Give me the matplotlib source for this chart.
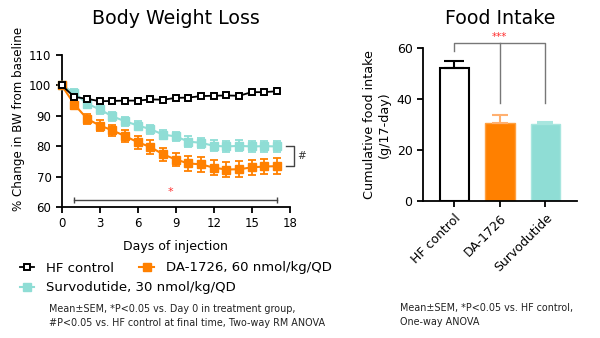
import matplotlib.pyplot as plt
import numpy as np

# body weight (% of baseline)
days = np.arange(0, 18)
hf_bw = [100, 96.2, 95.6, 94.8, 94.9, 95.0, 95.0, 95.4, 95.3, 95.9, 96.0, 96.5, 96.6, 96.7, 96.6, 97.8, 97.8, 98.1]
hf_err = [0.3, 0.6, 0.7, 0.7, 0.7, 0.7, 0.7, 0.7, 0.7, 0.7, 0.7, 0.8, 0.8, 0.8, 0.8, 0.8, 0.8, 0.9]
da_bw = [100, 93.7, 89.0, 86.8, 85.2, 83.3, 81.3, 79.7, 77.3, 75.6, 74.3, 74.0, 72.9, 72.3, 72.4, 73.0, 73.3, 73.4]
da_err = [0.3, 1.3, 1.6, 1.7, 1.8, 1.9, 2.1, 2.2, 2.2, 2.3, 2.4, 2.4, 2.5, 2.6, 2.6, 2.5, 2.6, 2.7]
sv_bw = [100, 97.5, 94.0, 92.1, 89.8, 88.2, 86.8, 85.6, 83.8, 83.2, 81.5, 81.1, 80.1, 79.9, 80.1, 79.9, 80.0, 79.9]
sv_err = [0.3, 1.3, 1.3, 1.4, 1.4, 1.4, 1.5, 1.5, 1.6, 1.6, 1.7, 1.7, 1.8, 1.8, 1.8, 1.8, 1.8, 1.9]

# food intake
groups = ["HF control", "DA-1726", "Survodutide"]
food = [52.3, 30.6, 30.2]
food_err = [2.7, 3.4, 1.0]

orange = "#FF8000"
teal = "#8FDDD5"

plt.rcParams['font.family'] = ['DejaVu Sans']
fig = plt.figure(figsize=(6, 3.38), dpi=100)

# ---- left: body weight ----
ax = fig.add_axes([0.103, 0.388, 0.380, 0.449])
ax.errorbar(days, sv_bw, yerr=sv_err, color=teal, marker='s', ms=6, lw=1.5,
            capsize=3, elinewidth=1.3, capthick=1.3, clip_on=False, zorder=3)
ax.errorbar(days, da_bw, yerr=da_err, color=orange, marker='s', ms=6, lw=1.5,
            capsize=3, elinewidth=1.3, capthick=1.3, clip_on=False, zorder=4)
ax.errorbar(days, hf_bw, yerr=hf_err, color='black', marker='s', ms=5, mfc='white',
            mew=1.4, lw=1.3, capsize=2, elinewidth=1, clip_on=False, zorder=5)

ax.set_xlim(0, 18)
ax.set_ylim(60, 110)
ax.set_xticks(range(0, 19, 3))
ax.set_yticks(range(60, 111, 10))
ax.tick_params(labelsize=8.5, width=1.3, length=4)
for s in ['top', 'right']:
    ax.spines[s].set_visible(False)
for s in ['left', 'bottom']:
    ax.spines[s].set_linewidth(1.3)
ax.set_xlabel("Days of injection", fontsize=9, labelpad=7)
ax.set_ylabel("% Change in BW from baseline", fontsize=8.6)
ax.yaxis.set_label_coords(-0.16, 0.58)
ax.set_title("Body Weight Loss", fontsize=13.7, pad=22.5)

# significance marks
ax.errorbar([1, 17], [62.2, 62.2], yerr=0.9, color='#444444', lw=1, capsize=0, elinewidth=1)
ax.text(8.6, 63.2, "*", color='#FF3030', fontsize=8, ha='center', va='bottom')
ax.plot([17.7, 18.35, 18.35, 17.7], [79.9, 79.9, 73.4, 73.4], color='#444444', lw=1, clip_on=False)
ax.text(18.6, 76.6, "#", fontsize=7.5, va='center', ha='left', color='#333333')

# legends
h_hf = ax.plot([], [], color='black', marker='s', ms=5, mfc='white', mew=1.4, lw=1.3)[0]
h_da = ax.plot([], [], color=orange, marker='s', ms=5.5, lw=1.5)[0]
h_sv = ax.plot([], [], color=teal, marker='s', ms=5.5, lw=1.5)[0]
fig.legend([h_hf, h_da], ["HF control", "DA-1726, 60 nmol/kg/QD"], ncol=2, frameon=False,
           fontsize=9.5, loc='center left', bbox_to_anchor=(0.033, 1 - 268 / 338), handlelength=1.1,
           handletextpad=0.9, columnspacing=1.9, borderaxespad=0, borderpad=0)
fig.legend([h_sv], ["Survodutide, 30 nmol/kg/QD"], frameon=False,
           fontsize=9.5, loc='center left', bbox_to_anchor=(0.033, 1 - 288 / 338), handlelength=1.1,
           handletextpad=0.9, borderaxespad=0, borderpad=0)

fig.text(0.082, 1 - 316 / 338, "Mean±SEM, *P<0.05 vs. Day 0 in treatment group,\n"
         "#P<0.05 vs. HF control at final time, Two-way RM ANOVA",
         fontsize=6.9, va='center', ha='left', linespacing=1.45, color='#222222')

# ---- right: food intake ----
ax2 = fig.add_axes([0.705, 0.405, 0.257, 0.452])
x = np.arange(len(groups))
ax2.bar(x[0], food[0], width=0.65, color='white', edgecolor='black', lw=1.5, zorder=2)
ax2.bar(x[1], food[1], width=0.65, color=orange, edgecolor='#FFA040', lw=1, zorder=2)
ax2.bar(x[2], food[2], width=0.65, color=teal, edgecolor='#A8E6DF', lw=1, zorder=2)
ecols = ['black', '#FFB070', '#A8E6DF']
caps = [7, 5.5, 5.5]
for i in range(3):
    ax2.errorbar(x[i], food[i], yerr=[[0], [food_err[i]]], color=ecols[i],
                 capsize=caps[i], elinewidth=1.5, capthick=1.5, zorder=3)
ax2.set_xlim(-0.69, 2.70)
ax2.set_ylim(0, 60)
ax2.set_yticks([0, 20, 40, 60])
ax2.set_xticks(x)
ax2.set_xticklabels(groups, rotation=45, ha='right', rotation_mode='anchor')
ax2.tick_params(labelsize=9, width=1.3, length=4)
for s in ['top', 'right']:
    ax2.spines[s].set_visible(False)
for s in ['left', 'bottom']:
    ax2.spines[s].set_linewidth(1.3)
ax2.set_ylabel("Cumulative food intake\n(g/17-day)", fontsize=9.2, labelpad=4)
ax2.set_title("Food Intake", fontsize=13.7, pad=17.5)

# bracket for ***
ax2.plot([0, 0, 2, 2], [58.8, 62.2, 62.2, 38.7], color='#777777', lw=1, clip_on=False)
ax2.plot([1, 1], [62.2, 38.7], color='#777777', lw=1, clip_on=False)
ax2.text(1, 62.6, "***", color='#FF3030', fontsize=7.5, ha='center', va='bottom')

fig.text(400 / 600, 1 - 315 / 338, "Mean±SEM, *P<0.05 vs. HF control,\nOne-way ANOVA",
         fontsize=6.9, va='center', ha='left', linespacing=1.45, color='#222222')

fig.savefig("out.png", dpi=100)
